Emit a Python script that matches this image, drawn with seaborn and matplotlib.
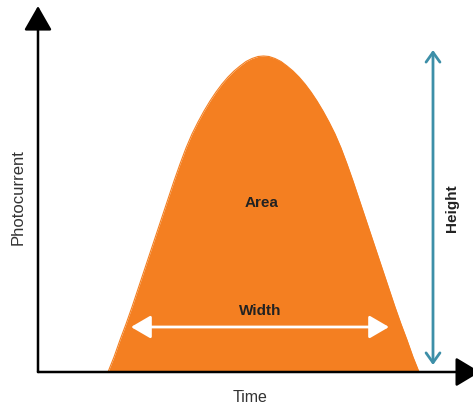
import matplotlib
matplotlib.use("Agg")
import matplotlib.pyplot as plt
import seaborn as sns
import pandas as pd

# Peak outline (arbitrary units)
time = [70, 76, 82, 88, 94, 100, 106, 112, 118, 124, 130, 136, 142, 148,
        154, 160, 166, 172, 178, 184, 190, 196, 202, 208, 214, 220, 225.5,
        231, 237, 243, 249, 255, 261, 267, 273, 279, 285, 291, 297, 303,
        309, 315, 321, 327, 333, 339, 345, 351, 357, 363, 369, 375, 381]
photocurrent = [0, 15, 32, 48, 65, 83, 101, 119, 137, 155, 173, 191, 208, 224,
                238, 250, 261, 271, 280, 288, 295, 301, 306, 310.5, 313.5, 315.5, 316,
                315.5, 313.5, 310.5, 306, 301, 295, 288, 280, 271, 261, 250, 238, 224,
                208, 191, 173, 155, 137, 119, 101, 83, 65, 48, 32, 15, 0]

x_label = "Time"
y_label = "Photocurrent"
area_label = "Area"
width_label = "Width"
height_label = "Height"

ORANGE = "#F47F21"
TEAL = "#3D8FA8"
DARK = "#222222"
GREY = "#333333"

sns.set_theme(style="white")
plt.rcParams["font.family"] = ["Liberation Sans", "DejaVu Sans"]

df = pd.DataFrame({"time": time, "photocurrent": photocurrent})

fig = plt.figure(figsize=(4.73, 4.08), dpi=100)
ax = fig.add_axes([0, 0, 1, 1])
ax.set_xlim(-38, 435)
ax.set_ylim(-36, 372)
ax.axis("off")

ax.fill_between(df["time"], 0, df["photocurrent"], color=ORANGE, lw=0, zorder=1)
sns.lineplot(data=df, x="time", y="photocurrent", color=ORANGE, lw=0.8,
             ax=ax, zorder=1, legend=False)

# axes arrows
ax.annotate("", xy=(0, 366), xytext=(0, 0), annotation_clip=False,
            arrowprops=dict(arrowstyle="-|>,head_length=0.75,head_width=0.43",
                            mutation_scale=20, color="black", lw=1.8,
                            shrinkA=0, shrinkB=0), zorder=3)
ax.annotate("", xy=(442, 0), xytext=(0, 0), annotation_clip=False,
            arrowprops=dict(arrowstyle="-|>,head_length=0.75,head_width=0.45",
                            mutation_scale=20, color="black", lw=1.8,
                            shrinkA=0, shrinkB=0), zorder=3)

# width arrow
ax.annotate("", xy=(351, 45), xytext=(93, 45),
            arrowprops=dict(arrowstyle="<|-|>,head_length=0.6,head_width=0.35",
                            mutation_scale=20, color="white", lw=2.0,
                            shrinkA=0, shrinkB=0), zorder=3)

# height arrow
ax.annotate("", xy=(395, 322), xytext=(395, 7),
            arrowprops=dict(arrowstyle="<->,head_length=0.35,head_width=0.25",
                            mutation_scale=20, color=TEAL, lw=2,
                            shrinkA=0, shrinkB=0), zorder=3)

ax.text(224, 169, area_label, ha="center", va="center", fontsize=11,
        fontweight="bold", color=DARK)
ax.text(222, 61, width_label, ha="center", va="center", fontsize=11,
        fontweight="bold", color=DARK)
ax.text(414, 164, height_label, ha="center", va="center", fontsize=11,
        fontweight="bold", color=DARK, rotation=90)
ax.text(-20, 175, y_label, ha="center", va="center", fontsize=12,
        color=GREY, rotation=90)
ax.text(212, -26, x_label, ha="center", va="center", fontsize=11.5,
        color=GREY)

fig.savefig("out.png", dpi=100)
